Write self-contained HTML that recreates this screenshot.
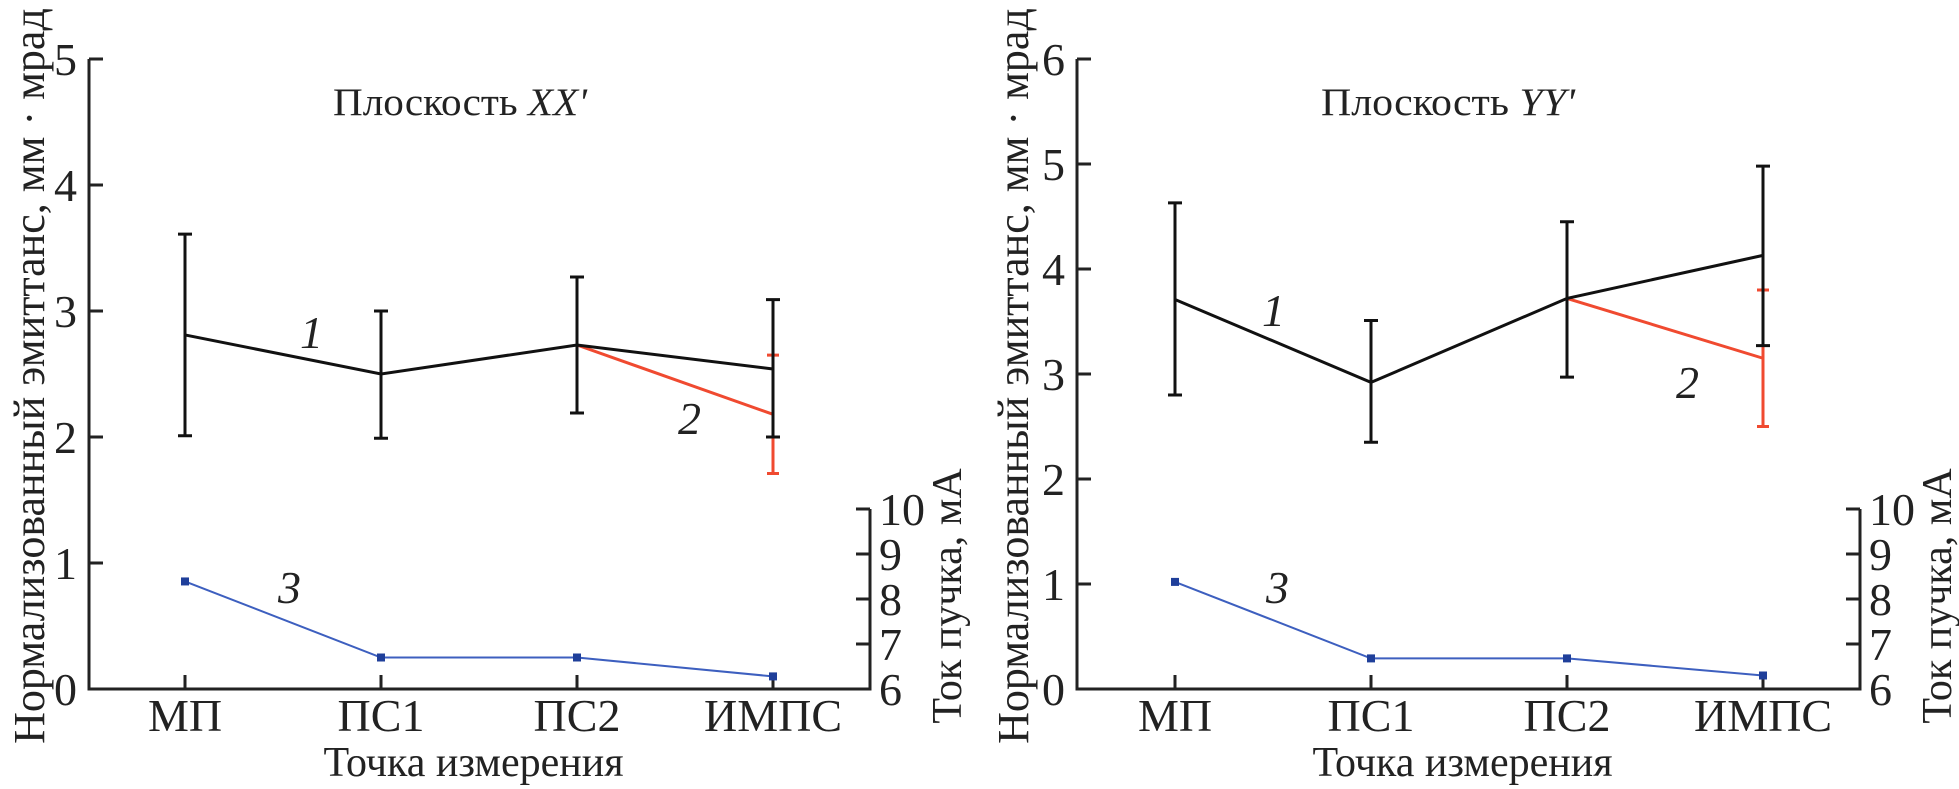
<!DOCTYPE html>
<html><head><meta charset="utf-8"><style>
html,body{margin:0;padding:0;background:#fff;}
svg{display:block;font-family:"Liberation Serif",serif;}
</style></head><body>
<svg id="chart" width="1959" height="789" viewBox="0 0 1959 789"></svg>
<script>
const categories = ["МП","ПС1","ПС2","ИМПС"];
// Left panel (XX')
const xxMain = [2.81, 2.50, 2.73, 2.54];
const xxMainHi = [3.61, 3.00, 3.27, 3.09];
const xxMainLo = [2.01, 1.99, 2.19, 2.00];
const xxRed = [null, null, 2.73, 2.18];
const xxRedHi = [null, null, null, 2.65];
const xxRedLo = [null, null, null, 1.71];
const xxCurrent = [8.39, 6.70, 6.70, 6.28];
const xxTicks = [0,1,2,3,4,5];
// Right panel (YY')
const yyMain = [3.71, 2.92, 3.72, 4.13];
const yyMainHi = [4.63, 3.51, 4.45, 4.98];
const yyMainLo = [2.80, 2.35, 2.97, 3.27];
const yyRed = [null, null, 3.72, 3.15];
const yyRedHi = [null, null, null, 3.80];
const yyRedLo = [null, null, null, 2.50];
const yyCurrent = [8.38, 6.68, 6.68, 6.30];
const yyTicks = [0,1,2,3,4,5,6];
const currentTicks = [6,7,8,9,10];

const NS="http://www.w3.org/2000/svg";
const svg=document.getElementById('chart');
const FS=46;
function mk(tag,attrs,parent,text){const e=document.createElementNS(NS,tag);for(const k in attrs)e.setAttribute(k,attrs[k]);if(text!==undefined)e.textContent=text;(parent||svg).appendChild(e);return e;}

function panel(o){
  const g=mk('g',{});
  
  
  const x0=o.x0, y0=689, yTop=59, ymax=o.ticks[o.ticks.length-1];
  const yS=v=>y0-(v/ymax)*(y0-yTop);
  const xS=i=>o.cx0+i*196;
  const rAx=o.cx0+3*196+97;
  const cS=v=>y0-(v-6)*45;
  const ax=mk('path',{d:`M${x0},${yTop} V${y0} H${rAx} V${cS(10)}`,fill:'none',stroke:'#222','stroke-width':3},g);
  
  
  o.ticks.forEach(t=>{
    mk('line',{x1:x0,x2:x0+14,y1:yS(t),y2:yS(t),stroke:'#222','stroke-width':3},g);
    const l=mk('text',{x:x0-12,y:yS(t)+16,'text-anchor':'end','font-size':FS,fill:'#222'},g,t);
    
    
  });
  currentTicks.forEach(t=>{
    mk('line',{x1:rAx-14,x2:rAx,y1:cS(t),y2:cS(t),stroke:'#222','stroke-width':3},g);
    const l=mk('text',{x:rAx+9,y:cS(t)+16,'font-size':FS,fill:'#222'},g,t);
    
    
  });
  categories.forEach((c,i)=>{
    mk('line',{x1:xS(i),x2:xS(i),y1:y0-14,y2:y0,stroke:'#222','stroke-width':3},g);
    const l=mk('text',{x:xS(i),y:731,'text-anchor':'middle','font-size':FS,fill:'#222'},g,c);
    
    
  });
  const xt=mk('text',{x:(x0+rAx)/2-6,y:776,'text-anchor':'middle','font-size':42,fill:'#222'},g,'Точка измерения');
  
  
  const yt=mk('text',{transform:`translate(${o.ytX},${o.ytY}) rotate(-90)`,'text-anchor':'middle','font-size':44,fill:'#222'},g,'Нормализованный эмиттанс, мм · мрад');
  
  
  const ct=mk('text',{transform:`translate(${rAx+91},596) rotate(-90)`,'text-anchor':'middle','font-size':42,fill:'#222'},g,'Ток пучка, мА');
  
  
  const tt=mk('text',{x:o.titleX,y:115,'font-size':39,fill:'#222',textLength:254,lengthAdjust:'spacingAndGlyphs'},g);
  
  
  tt.appendChild(document.createTextNode('Плоскость '));
  mk('tspan',{'font-style':'italic'},tt,o.plane);
  let rp=[];o.red.forEach((v,i)=>{if(v!==null)rp.push(xS(i)+','+yS(v));});
  const rl=mk('polyline',{points:rp.join(' '),fill:'none',stroke:'#f04a30','stroke-width':3},g);
  
  
  o.red.forEach((v,i)=>{if(o.redHi[i]===null)return;
    const e=mk('path',{d:`M${xS(i)},${yS(o.redHi[i])} V${yS(o.redLo[i])} M${xS(i)-6},${yS(o.redHi[i])} H${xS(i)+6} M${xS(i)-6},${yS(o.redLo[i])} H${xS(i)+6}`,stroke:'#f04a30','stroke-width':3,fill:'none'},g);
    
    
  });
  const ml=mk('polyline',{points:o.main.map((v,i)=>xS(i)+','+yS(v)).join(' '),fill:'none',stroke:'#111','stroke-width':3},g);
  
  
  o.main.forEach((v,i)=>{
    const e=mk('path',{d:`M${xS(i)},${yS(o.hi[i])} V${yS(o.lo[i])} M${xS(i)-7},${yS(o.hi[i])} H${xS(i)+7} M${xS(i)-7},${yS(o.lo[i])} H${xS(i)+7}`,stroke:'#111','stroke-width':3,fill:'none'},g);
    
    
  });
  const bl=mk('polyline',{points:o.cur.map((v,i)=>xS(i)+','+cS(v)).join(' '),fill:'none',stroke:'#3d5fbf','stroke-width':2},g);
  
  
  o.cur.forEach((v,i)=>{
    const m=mk('rect',{x:xS(i)-4,y:cS(v)-4,width:8,height:8,fill:'#1f3f9a'},g);
    
    
  });
  o.labels.forEach(l=>{
    const t=mk('text',{x:l[1],y:l[2],'font-size':FS,'font-style':'italic',fill:'#222'},g,l[0]);
    
    
  });
}
panel({name:'panel-xx',x0:89,cx0:185,ticks:xxTicks,main:xxMain,hi:xxMainHi,lo:xxMainLo,red:xxRed,redHi:xxRedHi,redLo:xxRedLo,cur:xxCurrent,plane:"XX'",titleX:333,ytX:44,ytY:376,
  labels:[['1',300,348],['2',678,434],['3',278,603]]});
panel({name:'panel-yy',x0:1077,cx0:1175,ticks:yyTicks,main:yyMain,hi:yyMainHi,lo:yyMainLo,red:yyRed,redHi:yyRedHi,redLo:yyRedLo,cur:yyCurrent,plane:"YY'",titleX:1321,ytX:1028,ytY:376,
  labels:[['1',1262,326],['2',1676,398],['3',1266,603]]});
</script>
</body></html>
